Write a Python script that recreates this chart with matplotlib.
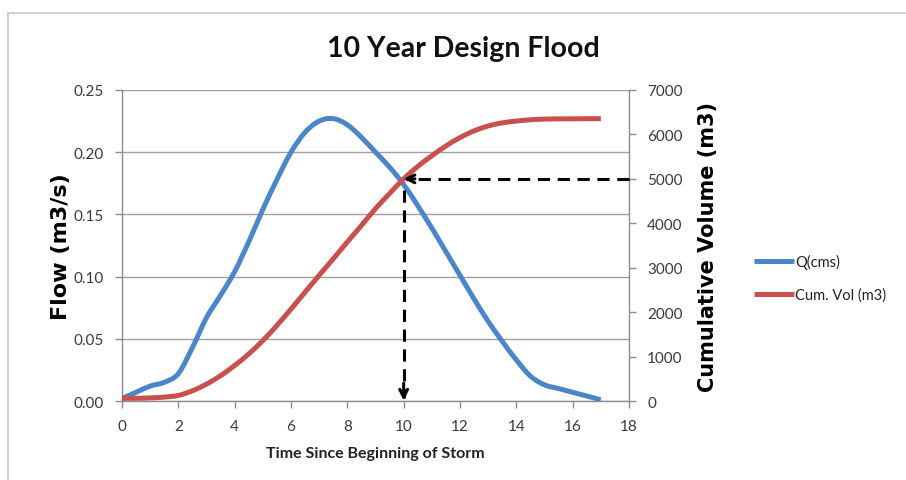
import numpy as np
import matplotlib
matplotlib.use("Agg")
import matplotlib.pyplot as plt
from matplotlib.lines import Line2D
from matplotlib.path import Path
from matplotlib.patches import PathPatch

# hours since start of storm (every half hour)
time_h = [0, 0.5, 1, 1.5, 2, 2.5, 3, 3.5, 4, 4.5, 5, 5.5, 6, 6.5, 7, 7.5, 8, 8.5,
          9, 9.5, 10, 10.5, 11, 11.5, 12, 12.5, 13, 13.5, 14, 14.5, 15, 15.5,
          16, 16.5, 17]
# flow, m3/s
q_cms = [0.002, 0.007, 0.012, 0.015, 0.022, 0.043, 0.067, 0.085, 0.104, 0.128,
         0.154, 0.178, 0.200, 0.216, 0.225, 0.227, 0.222, 0.212, 0.200, 0.188,
         0.174, 0.157, 0.139, 0.120, 0.101, 0.082, 0.064, 0.048, 0.033, 0.020,
         0.013, 0.010, 0.007, 0.004, 0.001]
# cumulative volume, m3
cum_vol = [60, 62, 70, 88, 125, 230, 380, 570, 800, 1060, 1360, 1700, 2070,
           2450, 2830, 3200, 3580, 3950, 4330, 4670, 5000, 5280, 5520, 5740,
           5930, 6080, 6190, 6260, 6300, 6330, 6345, 6350, 6352, 6354, 6355]

x_ticks = list(range(0, 19, 2))
flow_ticks = [0.00, 0.05, 0.10, 0.15, 0.20, 0.25]
vol_ticks = list(range(0, 7001, 1000))
design_vol = 5000
design_t = 10

blue = '#4A86C8'
red = '#C9504D'
grid_c = '#a0a0a0'
tick_c = '#3a3a3a'


def smooth_line(a, xs, ys, color, label):
    # Excel-like smoothed line: bezier segments through the points (catmull-rom)
    xs = np.asarray(xs, float)
    ys = np.asarray(ys, float)
    verts = [(xs[0], ys[0])]
    codes = [Path.MOVETO]
    n = len(xs)
    for i in range(n - 1):
        p0 = i - 1 if i > 0 else i
        p3 = i + 2 if i + 2 < n else i + 1
        c1 = (xs[i] + (xs[i+1] - xs[p0]) / 6, ys[i] + (ys[i+1] - ys[p0]) / 6)
        c2 = (xs[i+1] - (xs[p3] - xs[i]) / 6, ys[i+1] - (ys[p3] - ys[i]) / 6)
        verts += [c1, c2, (xs[i+1], ys[i+1])]
        codes += [Path.CURVE4] * 3
    patch = PathPatch(Path(verts, codes), facecolor='none', edgecolor=color,
                      lw=3.6, capstyle='butt', zorder=3)
    a.add_patch(patch)
    return Line2D([], [], color=color, lw=3.6, solid_capstyle='butt', label=label)


fig = plt.figure(figsize=(9.06, 4.81), dpi=100)
ax = fig.add_axes([122/906, 1 - 402/481, 507/906, 311/481])
ax2 = ax.twinx()

h_q = smooth_line(ax, time_h, q_cms, blue, 'Q(cms)')
h_v = smooth_line(ax2, time_h, cum_vol, red, 'Cum. Vol (m3)')

ax.set_xlim(0, 18)
ax.set_ylim(0, 0.25)
ax2.set_ylim(0, 7000)
ax.set_xticks(x_ticks)
ax.set_yticks(flow_ticks)
ax.set_yticklabels([f'{v:.2f}' for v in flow_ticks])
ax2.set_yticks(vol_ticks)
ax.yaxis.grid(True, color=grid_c, lw=1)
ax.set_axisbelow(True)

for a in (ax, ax2):
    for s in a.spines.values():
        s.set_visible(False)
ax.spines['left'].set_visible(True)
ax.spines['bottom'].set_visible(True)
ax2.spines['right'].set_visible(True)
for s in (ax.spines['left'], ax.spines['bottom'], ax2.spines['right']):
    s.set_color('#8c8c8c')
    s.set_linewidth(1)

ax.tick_params(axis='both', direction='out', length=5, width=1, color='#8c8c8c',
               labelcolor=tick_c, pad=8)
ax2.tick_params(axis='y', direction='out', length=5, width=1, color='#8c8c8c',
                labelcolor=tick_c, pad=8)
for lab in ax.get_xticklabels() + ax.get_yticklabels() + ax2.get_yticklabels():
    lab.set_fontfamily('Lato')
    lab.set_fontsize(11)

ax.set_xlabel('Time Since Beginning of Storm', family='Lato', weight='bold',
              size=11.5, color='#222222', labelpad=9)

# axis titles placed where the reference has them
mid_y = 1 - 246.5/481
fig.text(61/906, mid_y, 'Flow (m3/s)', family='DejaVu Sans', weight='bold', size=16,
         rotation=90, ha='center', va='center')
fig.text(708/906, mid_y, 'Cumulative Volume (m3)', family='DejaVu Sans', weight='bold',
         size=15, rotation=90, ha='center', va='center')

fig.text(463/906, 1 - 49/481, '10 Year Design Flood', family='Lato', weight='bold',
         size=20.5, ha='center', va='center', color='#111111')

# dashed reading lines with open arrow heads
ax2.plot([18, design_t + 0.1], [design_vol, design_vol], color='black', lw=2.2,
         dashes=(4, 2.5), zorder=4, clip_on=False)
ax2.plot([design_t, design_t], [design_vol - 250, 60], color='black', lw=2.2,
         dashes=(4, 2.5), zorder=4)
ax2.annotate('', xy=(design_t, design_vol), xytext=(design_t + 0.4, design_vol),
             arrowprops=dict(arrowstyle='->', color='black', lw=2.2,
                             mutation_scale=14, shrinkA=0, shrinkB=0), zorder=5)
ax2.annotate('', xy=(design_t, 10), xytext=(design_t, 400),
             arrowprops=dict(arrowstyle='->', color='black', lw=2.2,
                             mutation_scale=14, shrinkA=0, shrinkB=0), zorder=5)

fig.legend([h_q, h_v], ['Q(cms)', 'Cum. Vol (m3)'], loc='center left',
           bbox_to_anchor=(741/906, 1 - 279/481),
           frameon=False, prop=dict(family='Lato', size=10.5), handlelength=2.7,
           handletextpad=0.1, labelspacing=1.25, labelcolor='#222222')

# screenshot frame
fig.add_artist(Line2D([8/906, 1], [1 - 14/481, 1 - 14/481], color='#c8c8c8', lw=1.2))
fig.add_artist(Line2D([8/906, 8/906], [0, 1 - 14/481], color='#c8c8c8', lw=1.2))

fig.savefig('out.png', dpi=100)
